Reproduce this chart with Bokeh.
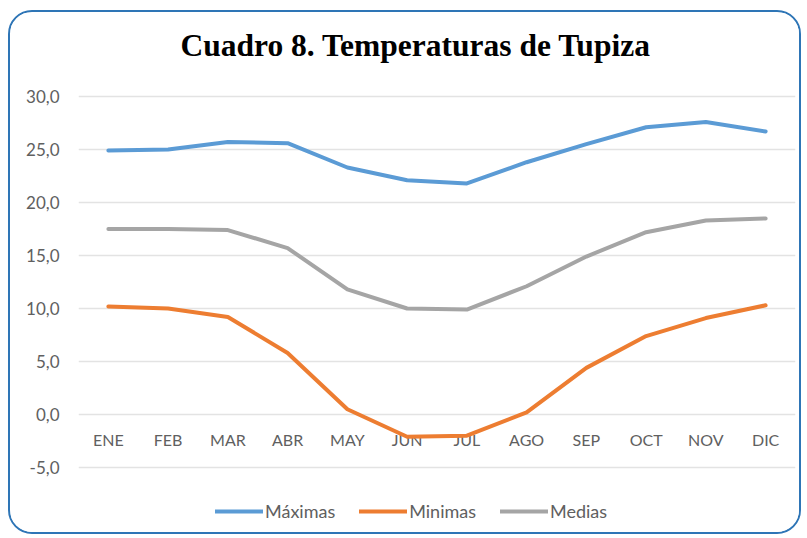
from bokeh.plotting import figure
from bokeh.models import Legend, LegendItem, FactorRange, Range1d, FixedTicker, Label
from bokeh.core.properties import value
from bokeh.embed import file_html
from bokeh.resources import INLINE

months = ["ENE", "FEB", "MAR", "ABR", "MAY", "JUN", "JUL", "AGO", "SEP", "OCT", "NOV", "DIC"]
maximas = [24.9, 25.0, 25.7, 25.6, 23.3, 22.1, 21.8, 23.8, 25.5, 27.1, 27.6, 26.7]
minimas = [10.2, 10.0, 9.2, 5.8, 0.5, -2.1, -2.0, 0.2, 4.4, 7.4, 9.1, 10.3]
medias = [17.5, 17.5, 17.4, 15.7, 11.8, 10.0, 9.9, 12.1, 14.9, 17.2, 18.3, 18.5]
y_ticks = [-5, 0, 5, 10, 15, 20, 25, 30]
y_tick_labels = ["-5,0", "0,0", "5,0", "10,0", "15,0", "20,0", "25,0", "30,0"]
series_names = ["Máximas", "Minimas", "Medias"]
title_text = "Cuadro 8. Temperaturas de Tupiza"

W, H = 793, 524
# the -5..30 axis span occupies 371 px (canvas 84..455); the frame is extended
# above and below it so that title and legend live inside the frame
px_per_unit = 371 / 35
y_top = 30 + (84 - 2) / px_per_unit
y_bottom = 30 - (522 - 84) / px_per_unit
p = figure(width=W, height=H, output_backend="svg", toolbar_location=None,
           x_range=FactorRange(*months), y_range=Range1d(y_bottom, y_top),
           x_axis_location=None,
           min_border_left=68, min_border_right=8, min_border_top=2,
           min_border_bottom=2)
p.styles = {"border": "2px solid #2e75b6", "border-radius": "24px", "overflow": "hidden",
            "margin-top": "10px", "margin-left": "8px"}
p.outline_line_color = None
p.xgrid.grid_line_color = None
p.ygrid.grid_line_color = "#e3e3e3"
p.ygrid.grid_line_width = 1.5
p.ygrid.ticker = FixedTicker(ticks=y_ticks)

p.yaxis.ticker = FixedTicker(ticks=y_ticks)
p.yaxis.major_label_overrides = {t: l for t, l in zip(y_ticks, y_tick_labels)}
p.yaxis.axis_line_color = None
p.yaxis.major_tick_line_color = None
p.yaxis.minor_tick_line_color = None
p.yaxis.major_label_text_font = "Lato"
p.yaxis.major_label_text_font_size = "17px"
p.yaxis.major_label_text_color = "#606060"
p.yaxis.major_label_standoff = 13

# month labels sitting just below the zero line
p.text(x=months, y=[0] * len(months), text=months, y_offset=25,
       text_font=value("Lato"), text_font_size="16px", text_color="#606060",
       text_align="center", text_baseline="middle")

colors = ["#5b9bd5", "#ed7d31", "#a5a5a5"]
renderers = []
for vals, c in zip([maximas, minimas, medias], colors):
    r = p.line(months, vals, line_color=c, line_width=4, line_join="round", line_cap="round")
    renderers.append(r)

legend = Legend(items=[LegendItem(label=n, renderers=[r]) for n, r in zip(series_names, renderers)],
                orientation="horizontal", location=(137, 12),
                label_text_font="Lato", label_text_font_size="18px",
                label_text_color="#606060", glyph_width=48, glyph_height=16,
                label_standoff=2, spacing=24, background_fill_alpha=0,
                border_line_color=None, padding=0, margin=0)
p.add_layout(legend, "center")

p.add_layout(Label(x=102, y=489, x_units="screen", y_units="screen", text=title_text,
                   text_font="Liberation Serif", text_font_style="bold",
                   text_font_size="31.5px", text_align="left", text_baseline="alphabetic",
                   text_color="#000000"))

open("out.html", "w").write(file_html(p, INLINE))
